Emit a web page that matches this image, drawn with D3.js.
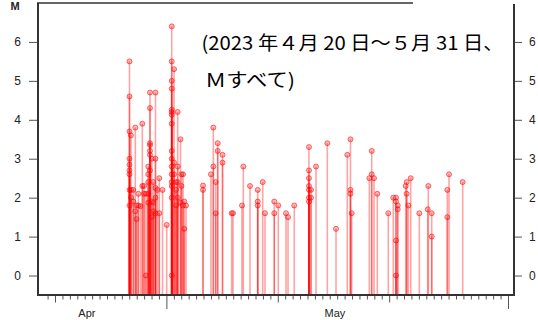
<!DOCTYPE html>
<html>
<head>
<meta charset="utf-8">
<script src="https://cdn.jsdelivr.net/npm/d3@7"></script>
<style>
  html, body { margin: 0; padding: 0; background: #fff; }
  svg { display: block; }
</style>
</head>
<body>
<svg id="chart" width="538" height="320"></svg>
<script>
// ---- data (x = day index on the axis, day 0 = "Apr" start tick) ----
const stemDays = [
  10.03, 10.23, 10.54, 10.81, 10.97, 11.22, 11.51, 11.76, 11.99, 12.25,
  12.56, 12.79, 13.02, 13.24, 13.53, 13.78, 14.04, 14.48, 15.04, 15.72,
  16.03, 16.30, 16.52, 16.90, 17.03, 17.24, 17.41, 17.64,
  19.93, 21.00, 21.32, 21.64, 21.91, 22.56, 23.79, 23.97, 25.18, 25.36,
  26.26, 27.30, 27.97, 28.28, 29.53, 30.07, 31.11, 31.38, 32.22, 34.20,
  34.47, 35.15, 36.67, 37.84, 39.36, 39.79, 39.95, 42.33, 42.65, 42.96,
  43.40, 44.88, 45.55, 45.92, 46.15, 47.23, 47.36, 47.58, 47.90, 49.06,
  50.19, 50.27, 50.73, 52.83, 53.06, 54.90
];
const stemMags = [
  [5.5, 4.6, 3.7, 3.0, 2.85, 2.7, 2.6, 2.2, 1.8],
  [3.6, 2.2, 2.0],
  [2.2, 1.9],
  [3.8, 1.65],
  [1.45, 1.8],
  [2.1, 1.8],
  [1.78],
  [3.9, 2.3],
  [2.1, 2.3],
  [0.0, 2.1],
  [2.8, 2.6, 2.4, 2.1, 1.87],
  [4.7, 4.3, 3.4, 3.35, 3.2, 3.1, 2.7],
  [3.0, 1.9, 1.5],
  [2.4, 1.87, 1.65],
  [4.7, 3.0, 2.25, 2.0, 1.6],
  [2.2],
  [2.5, 1.6],
  [2.2],
  [1.3],
  [6.4, 5.5, 5.0, 4.8, 4.26, 4.2, 4.13, 3.9, 3.2, 3.0, 2.8, 2.6, 2.4, 2.3, 2.0, 0.0],
  [5.3, 2.9, 2.6],
  [2.4, 2.2, 1.8],
  [4.2, 2.8, 2.4, 2.0],
  [3.5, 1.87],
  [2.6, 2.3],
  [2.6, 1.8],
  [1.9, 1.2],
  [1.8],
  [2.31, 2.2],
  [2.6],
  [3.8, 2.8],
  [2.4, 1.6],
  [3.4, 3.2],
  [3.1, 2.9],
  [1.6],
  [1.6],
  [1.8],
  [2.8],
  [2.3],
  [2.2, 1.9, 1.8],
  [2.4],
  [1.6],
  [1.9, 1.6],
  [1.8],
  [1.6],
  [1.5],
  [1.8],
  [3.3, 2.7, 2.5, 2.3, 2.2, 2.0, 1.9],
  [2.2, 2.0],
  [2.8],
  [3.4],
  [1.2],
  [3.1],
  [3.5, 2.2, 2.1],
  [1.6],
  [2.5],
  [3.2, 2.6],
  [2.5],
  [2.1],
  [1.6],
  [2.0],
  [2.0, 1.9, 0.9, 0.0],
  [1.8, 1.7],
  [2.3],
  [2.4, 2.1],
  [1.8],
  [2.5],
  [1.6],
  [1.7],
  [2.3],
  [1.6, 1.0],
  [2.2, 1.5],
  [2.6],
  [2.4]
];
const yTicks = [0, 1, 2, 3, 4, 5, 6];
const monthLabels = ["Apr", "May"];
const monthLabelDays = [4.3, 37.7];
const mediumTickDays = [0, 30, 45];
const longTickDays = [15, 61];
const yLabel = "M";
const noteLines = ["(2023 年４月 20 日～５月 31 日、", "Ｍすべて)"];

// ---- layout ----
const svg = d3.select("#chart");
const L = 38, R = 514, T = 3, B = 295;
const x = d3.scaleLinear().domain([-2.29, 61.81]).range([L, R]);
const y = d3.scaleLinear().domain([-0.5, 7.0]).range([B, T]);

const events = [];
stemDays.forEach((d, i) => stemMags[i].forEach(m => events.push({ d, m })));

// stems
svg.append("g").selectAll("line").data(events).join("line")
  .attr("x1", e => x(e.d)).attr("x2", e => x(e.d))
  .attr("y1", y(-0.5)).attr("y2", e => y(e.m))
  .attr("stroke", "rgba(255,0,0,0.36)")
  .attr("stroke-width", 1.6);

// markers
svg.append("g").selectAll("circle").data(events).join("circle")
  .attr("cx", e => x(e.d)).attr("cy", e => y(e.m))
  .attr("r", 2.5)
  .attr("fill", "rgba(255,0,0,0.28)")
  .attr("stroke", "rgba(255,0,0,0.55)")
  .attr("stroke-width", 1);

// axes
const axisColor = "#333";
const leftAxis = svg.append("g").attr("transform", `translate(${L - 1},0)`)
  .call(d3.axisLeft(y).tickValues(yTicks).tickSize(8).tickPadding(8).tickFormat(d3.format("d")));
const rightAxis = svg.append("g").attr("transform", `translate(${R + 1},0)`)
  .call(d3.axisRight(y).tickValues(yTicks).tickSize(7).tickPadding(7).tickFormat(d3.format("d")));
[leftAxis, rightAxis].forEach(g => {
  g.select(".domain").remove();
  g.selectAll(".tick line").attr("stroke", "#555").attr("stroke-width", 1);
  g.selectAll(".tick text").attr("fill", "#222")
    .style("font-family", "Liberation Sans, Arial, sans-serif").style("font-size", "12px");
});

const minorDays = d3.range(-1, 62).filter(d => !mediumTickDays.includes(d) && !longTickDays.includes(d));
const tickSets = [[minorDays, 3.5], [mediumTickDays, 6.5], [longTickDays, 13]];
tickSets.forEach(([vals, len]) => {
  const g = svg.append("g").attr("transform", `translate(0,${B + 1})`)
    .call(d3.axisBottom(x).tickValues(vals).tickSize(len).tickFormat(""));
  g.select(".domain").remove();
  g.selectAll(".tick line").attr("stroke", "#555").attr("stroke-width", 1);
});

svg.append("g").selectAll("text").data(monthLabels).join("text")
  .attr("x", (d, i) => x(monthLabelDays[i])).attr("y", 317)
  .attr("text-anchor", "middle")
  .attr("fill", "#222")
  .style("font-family", "Liberation Sans, Arial, sans-serif").style("font-size", "11px")
  .text(d => d);

// frame
const frame = svg.append("g").attr("stroke", axisColor).attr("stroke-width", 2).attr("fill", "none");
frame.append("line").attr("x1", L).attr("x2", L).attr("y1", T).attr("y2", B + 1);
frame.append("line").attr("x1", L - 1).attr("x2", R + 1).attr("y1", B).attr("y2", B);
frame.append("line").attr("x1", R).attr("x2", R).attr("y1", T + 1).attr("y2", B + 1);
frame.append("line").attr("x1", L - 1).attr("x2", 413).attr("y1", T).attr("y2", T).attr("stroke-width", 1.5);

// y label
svg.append("text").attr("x", 15).attr("y", 10).attr("text-anchor", "middle")
  .attr("fill", "#222").style("font-family", "Liberation Sans, Arial, sans-serif")
  .style("font-size", "11px").style("font-weight", "bold").text(yLabel);

// annotation
const noteFont = "'Noto Sans CJK JP', sans-serif";
svg.append("text").attr("x", 201.5).attr("y", 50)
  .attr("textLength", 302).attr("lengthAdjust", "spacingAndGlyphs")
  .style("font-family", noteFont).style("font-size", "19px").attr("fill", "#000")
  .text(noteLines[0]);
svg.append("text").attr("x", 205).attr("y", 87)
  .attr("textLength", 90).attr("lengthAdjust", "spacingAndGlyphs")
  .style("font-family", noteFont).style("font-size", "19px").attr("fill", "#000")
  .text(noteLines[1]);
</script>
</body>
</html>
